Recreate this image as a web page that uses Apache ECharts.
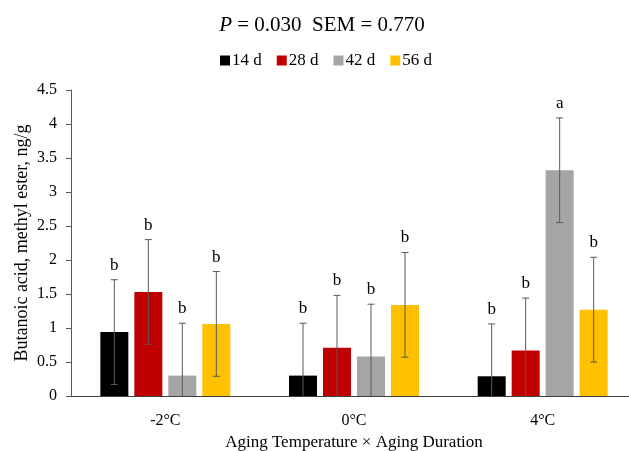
<!DOCTYPE html>
<html>
<head>
<meta charset="utf-8">
<script src="https://cdn.jsdelivr.net/npm/echarts@6/dist/echarts.min.js"></script>
<style>
html, body { margin: 0; padding: 0; background: #fff; }
#main { width: 629px; height: 451px; }
</style>
</head>
<body>
<div id="main"></div>
<script>
// data
var temps = ['-2°C', '0°C', '4°C'];
var durations = ['14 d', '28 d', '42 d', '56 d'];
var d14 = [0.94, 0.30, 0.29];
var d28 = [1.53, 0.71, 0.67];
var d42 = [0.30, 0.58, 3.32];
var d56 = [1.06, 1.34, 1.27];
var letters14 = ['b', 'b', 'b'];
var letters28 = ['b', 'b', 'b'];
var letters42 = ['b', 'b', 'a'];
var letters56 = ['b', 'b', 'b'];
var sem = 0.77;
var yTicks = [0, 0.5, 1, 1.5, 2, 2.5, 3, 3.5, 4, 4.5];

var colors = ['#000000', '#c00000', '#a5a5a5', '#ffc000'];
var font = 'Liberation Serif, Times New Roman, serif';
var BAR_W = 28, BAR_GAP = 6;

var allValues = [d14, d28, d42, d56];
var allLetters = [letters14, letters28, letters42, letters56];

var myChart = echarts.init(document.getElementById('main'));

function errorSeries(k) {
  return {
    name: durations[k],
    type: 'custom',
    z: 5,
    silent: true,
    data: allValues[k].map(function (v, i) { return [i, v, allLetters[k][i]]; }),
    renderItem: function (params, api) {
      var ci = api.value(0);
      var v = api.value(1);
      var hi = api.coord([ci, v + sem]);
      var lo = api.coord([ci, Math.max(0, v - sem)]);
      var x = hi[0] + (k - 1.5) * (BAR_W + BAR_GAP);
      var style = { stroke: '#595959', lineWidth: 1 };
      var children = [
        { type: 'line', shape: { x1: x, y1: hi[1], x2: x, y2: lo[1] }, style: style },
        { type: 'line', shape: { x1: x - 3.5, y1: hi[1], x2: x + 3.5, y2: hi[1] }, style: style }
      ];
      if (v - sem > 0) {
        children.push({ type: 'line', shape: { x1: x - 3.5, y1: lo[1], x2: x + 3.5, y2: lo[1] }, style: style });
      }
      children.push({
        type: 'text',
        style: {
          x: x, y: hi[1] - 6,
          text: api.value(2),
          fill: '#000',
          font: '17px ' + font,
          align: 'center',
          verticalAlign: 'bottom'
        }
      });
      return { type: 'group', children: children };
    }
  };
}

var series = [];
for (var k = 0; k < 4; k++) {
  series.push({
    name: durations[k],
    type: 'bar',
    barWidth: BAR_W,
    barGap: (BAR_GAP / BAR_W * 100).toFixed(1) + '%',
    itemStyle: { color: colors[k] },
    data: allValues[k]
  });
}
for (var k = 0; k < 4; k++) series.push(errorSeries(k));

option = {
  animation: false,
  color: colors,
  title: {
    text: '{i|P} = 0.030  SEM = 0.770',
    left: 317,
    textAlign: 'center',
    top: 10,
    textStyle: {
      fontFamily: font, fontSize: 21, fontWeight: 'normal', color: '#000',
      rich: { i: { fontFamily: font, fontSize: 21, fontStyle: 'italic', color: '#000' } }
    }
  },
  legend: {
    data: durations,
    left: 220,
    top: 52,
    padding: 0,
    itemWidth: 10,
    itemHeight: 10,
    itemGap: 15,
    icon: 'rect',
    textStyle: { fontFamily: font, fontSize: 17, color: '#000', padding: [0, 0, 0, -3] }
  },
  grid: { left: 71, top: 90, width: 566, bottom: 55, outerBoundsMode: 'none' },
  xAxis: {
    type: 'category',
    data: temps,
    name: 'Aging Temperature \u00d7 Aging Duration',
    nameLocation: 'middle',
    nameGap: 38,
    nameTextStyle: { fontFamily: font, fontSize: 17, color: '#000' },
    axisLine: { lineStyle: { color: '#404040', width: 1 } },
    axisTick: { length: 6, lineStyle: { color: '#404040' } },
    axisLabel: { fontFamily: font, fontSize: 16, color: '#000', margin: 17 }
  },
  yAxis: {
    type: 'value',
    min: 0,
    max: 4.5,
    interval: 0.5,
    name: 'Butanoic acid, methyl ester, ng/g',
    nameLocation: 'middle',
    nameGap: 40,
    nameMoveOverlap: false,
    nameTextStyle: { fontFamily: font, fontSize: 18, color: '#000' },
    axisLine: { show: true, lineStyle: { color: '#595959', width: 1 } },
    axisTick: { show: true, length: 5, lineStyle: { color: '#595959' } },
    splitLine: { show: false },
    axisLabel: {
      fontFamily: font, fontSize: 16, color: '#000', margin: 14,
      formatter: function (v) { return yTicks.indexOf(v) >= 0 ? String(v) : ''; }
    }
  },
  series: series
};

myChart.setOption(option);
</script>
</body>
</html>
